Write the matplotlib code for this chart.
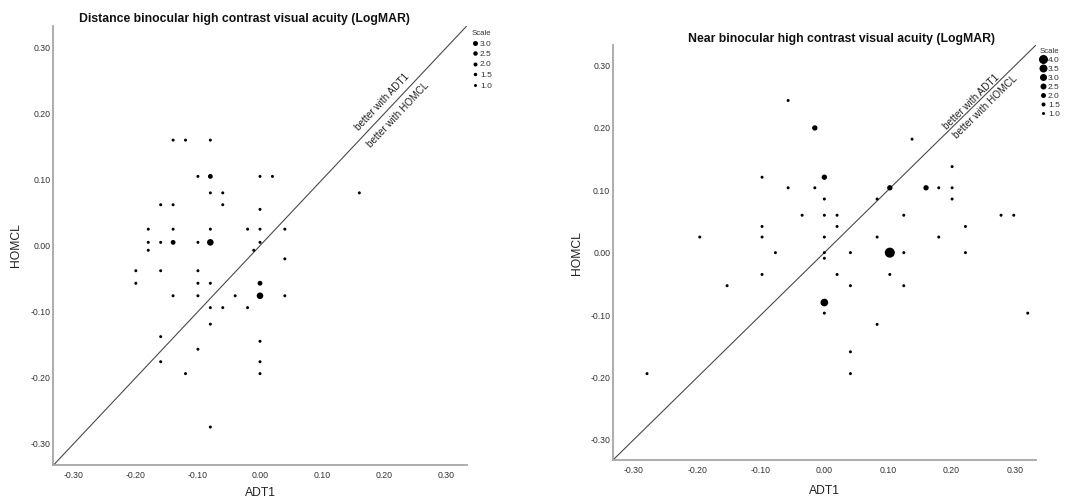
import matplotlib
matplotlib.use('Agg')
import matplotlib.pyplot as plt
from matplotlib.lines import Line2D
import numpy as np

plt.rcParams['font.family'] = ['Liberation Sans', 'DejaVu Sans']

# ---------------- data ----------------
dist_title = "Distance binocular high contrast visual acuity (LogMAR)"
near_title = "Near binocular high contrast visual acuity (LogMAR)"
x_label = "ADT1"
y_label = "HOMCL"
tick_values = [-0.30, -0.20, -0.10, 0.00, 0.10, 0.20, 0.30]
tick_labels = ["-0.30", "-0.20", "-0.10", "0.00", "0.10", "0.20", "0.30"]
above_label = "better with ADT1"
below_label = "better with HOMCL"

dist_x = [-0.14, -0.12, -0.08, -0.10, -0.08, 0.00, 0.02, -0.08, -0.06, 0.16,
          -0.16, -0.14, -0.06, 0.00, -0.18, -0.14, -0.08, -0.02, 0.00, 0.04,
          -0.18, -0.16, -0.14, -0.10, -0.08, 0.00, -0.18, -0.01, 0.04, -0.20,
          -0.16, -0.10, -0.20, -0.10, -0.08, 0.00, -0.14, -0.10, -0.04, 0.00,
          0.04, -0.08, -0.06, -0.02, -0.08, -0.16, 0.00, -0.10, -0.16, 0.00,
          -0.12, 0.00, -0.08]
dist_y = [0.160, 0.160, 0.160, 0.105, 0.105, 0.105, 0.105, 0.080, 0.080, 0.080,
          0.062, 0.062, 0.062, 0.055, 0.025, 0.025, 0.025, 0.025, 0.025, 0.025,
          0.005, 0.005, 0.005, 0.005, 0.005, 0.005, -0.007, -0.007, -0.020, -0.038,
          -0.038, -0.038, -0.057, -0.057, -0.057, -0.057, -0.076, -0.076, -0.076, -0.076,
          -0.076, -0.094, -0.094, -0.094, -0.119, -0.138, -0.145, -0.157, -0.176, -0.176,
          -0.194, -0.194, -0.275]
dist_n = [1, 1, 1, 1, 2, 1, 1, 1, 1, 1,
          1, 1, 1, 1, 1, 1, 1, 1, 1, 1,
          1, 1, 2, 1, 3, 1, 1, 1, 1, 1,
          1, 1, 1, 1, 1, 2, 1, 1, 1, 3,
          1, 1, 1, 1, 1, 1, 1, 1, 1, 1,
          1, 1, 1]

near_x = [-0.057, -0.015, 0.138, 0.201, -0.098, 0.000, -0.057, -0.015, 0.103, 0.160,
          0.180, 0.201, 0.000, 0.083, 0.201, -0.035, 0.000, 0.020, 0.125, 0.278,
          0.298, -0.098, 0.020, 0.222, -0.196, -0.098, 0.000, 0.083, 0.180, -0.077,
          0.000, 0.041, 0.103, 0.125, 0.222, 0.000, -0.098, 0.020, 0.103, -0.153,
          0.041, 0.125, 0.000, 0.000, 0.320, 0.083, 0.041, 0.041, -0.279]
near_y = [0.244, 0.200, 0.182, 0.138, 0.121, 0.121, 0.104, 0.104, 0.104, 0.104,
          0.104, 0.104, 0.086, 0.086, 0.086, 0.060, 0.060, 0.060, 0.060, 0.060,
          0.060, 0.042, 0.042, 0.042, 0.025, 0.025, 0.025, 0.025, 0.025, 0.000,
          0.000, 0.000, 0.000, 0.000, 0.000, -0.009, -0.035, -0.035, -0.035, -0.053,
          -0.053, -0.053, -0.080, -0.097, -0.097, -0.115, -0.159, -0.194, -0.194]
near_n = [1, 2, 1, 1, 1, 2, 1, 1, 2, 2,
          1, 1, 1, 1, 1, 1, 1, 1, 1, 1,
          1, 1, 1, 1, 1, 1, 1, 1, 1, 1,
          1, 1, 4, 1, 1, 1, 1, 1, 1, 1,
          1, 1, 3, 1, 1, 1, 1, 1, 1]

dist_scale = [3.0, 2.5, 2.0, 1.5, 1.0]
near_scale = [4.0, 3.5, 3.0, 2.5, 2.0, 1.5, 1.0]

# ---------------- figure ----------------
W, H = 1071, 500
fig = plt.figure(figsize=(W / 100, H / 100), dpi=100)


def axes_px(l, t, r, b):
    return fig.add_axes([l / W, 1 - b / H, (r - l) / W, (b - t) / H])


LIM = 0.333
SPINE = '#a6a6a6'


def diam_pt(n, d3_px):
    d_px = 3.0 + (np.asarray(n, dtype=float) - 1.0) * (d3_px - 3.0) / 2.0
    return d_px * 0.72


def setup(ax, xs, ys, ns, d3_px, lbl_pos):
    ax.set_xlim(-LIM, LIM)
    ax.set_ylim(-LIM, LIM)
    for s in ['top', 'right']:
        ax.spines[s].set_visible(False)
    for s in ['left', 'bottom']:
        ax.spines[s].set_color(SPINE)
        ax.spines[s].set_linewidth(1.3)
    ax.set_xticks(tick_values)
    ax.set_xticklabels(tick_labels)
    ax.set_yticks(tick_values)
    ax.set_yticklabels(tick_labels)
    ax.tick_params(axis='x', length=0, pad=4.2, labelsize=6.3, labelcolor='#333333')
    ax.tick_params(axis='y', length=0, pad=1.8, labelsize=6.3, labelcolor='#333333')
    ax.plot([-LIM, LIM], [-LIM, LIM], color='#4a4a4a', lw=0.8, zorder=1)
    d = diam_pt(ns, d3_px)
    ax.scatter(xs, ys, s=d ** 2, c='black', linewidths=0, zorder=3)
    (ax_x, ax_y), (bx, by) = lbl_pos
    ax.text(ax_x, ax_y, above_label, rotation=45, transform_rotates_text=True,
            rotation_mode='anchor', ha='center', va='center', fontsize=7.2,
            color='#222222')
    ax.text(bx, by, below_label, rotation=45, transform_rotates_text=True,
            rotation_mode='anchor', ha='center', va='center', fontsize=7.2,
            color='#222222')


ax1 = axes_px(53.3, 26, 466.7, 465.3)
ax2 = axes_px(612.7, 45, 1036, 460.3)

setup(ax1, dist_x, dist_y, dist_n, 6.6, ((0.197, 0.2175), (0.222, 0.198)))
setup(ax2, near_x, near_y, near_n, 7.7, ((0.232, 0.241), (0.254, 0.233)))

# titles and axis labels
fig.text(244.5 / W, 1 - 19 / H, dist_title, ha='center', va='center',
         fontsize=8.85, fontweight='bold', color='#111111')
fig.text(842 / W, 1 - 39 / H, near_title, ha='center', va='center',
         fontsize=8.85, fontweight='bold', color='#111111')
fig.text(16 / W, 1 - 245 / H, y_label, rotation=90, ha='center', va='center',
         fontsize=8.7, color='#222222')
fig.text(577 / W, 1 - 253 / H, y_label, rotation=90, ha='center', va='center',
         fontsize=8.7, color='#222222')
fig.text(260 / W, 1 - 487 / H, x_label, ha='center', va='top',
         fontsize=8.7, color='#222222')
fig.text(824 / W, 1 - 485 / H, x_label, ha='center', va='top',
         fontsize=8.7, color='#222222')


def scale_legend(ax, values, d3_px, anchor_px, spacing):
    handles = [Line2D([], [], linestyle='', marker='o', color='black',
                      markeredgewidth=0, markersize=float(diam_pt(v, d3_px)))
               for v in values]
    labels = [f"{v:.1f}" for v in values]
    leg = ax.legend(handles, labels, title='Scale', loc='upper left',
                    bbox_to_anchor=(anchor_px[0] / W, 1 - anchor_px[1] / H),
                    bbox_transform=fig.transFigure, frameon=False,
                    fontsize=6, title_fontsize=5.6, borderpad=0,
                    borderaxespad=0, handlelength=0.7, handletextpad=0.25,
                    labelspacing=spacing, alignment='left')
    for t in leg.get_texts():
        t.set_color('#333333')
    leg.get_title().set_color('#333333')
    return leg


scale_legend(ax1, dist_scale, 5.0, (472, 30), 0.32)
scale_legend(ax2, near_scale, 7.0, (1040, 48), 0.14)

fig.savefig('out.png', dpi=100)
